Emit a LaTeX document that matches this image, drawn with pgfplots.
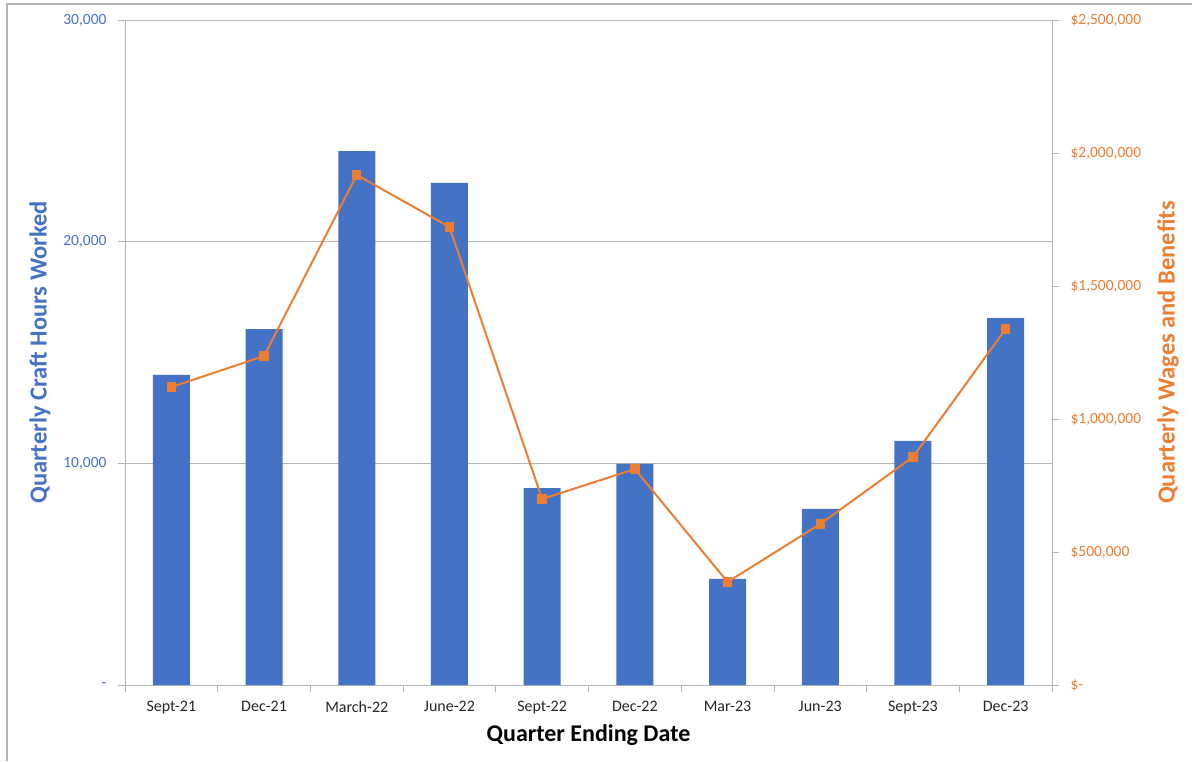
\documentclass[border=0pt]{standalone}
\usepackage{pgfplots}
\pgfplotsset{compat=1.18}
\usepackage{fontspec}
\setmainfont{Carlito}
\definecolor{barblue}{HTML}{4472C4}
\definecolor{lineorange}{HTML}{ED7D31}
\definecolor{gridgray}{HTML}{B4B4B4}
\definecolor{txt}{HTML}{262626}
\begin{document}
\begin{tikzpicture}
\path[use as bounding box] (0pt,0pt) rectangle (1192pt,761pt);
\draw[color=gridgray, line width=1.5pt] (7pt,0pt) -- (7pt,757pt) -- (1192pt,757pt);
\begin{axis}[
  at={(125pt,76pt)}, anchor=south west,
  scale only axis, width=927pt, height=665pt,
  xmin=-0.5, xmax=9.5, ymin=0, ymax=30000,
  scaled y ticks=false,
  axis x line*=bottom, axis y line*=left,
  axis line style={gridgray, line width=0.8pt},
  xtick={0,...,9},
  xticklabels={Sept-21,Dec-21,March-22,June-22,Sept-22,Dec-22,Mar-23,Jun-23,Sept-23,Dec-23},
  major x tick style={draw=none},
  minor xtick={-0.5,0.5,...,9.5},
  minor tick length=7pt,
  minor x tick style={gridgray, line width=0.8pt},
  xticklabel style={font=\fontsize{16}{19}\selectfont, color=txt, yshift=-6pt},
  ytick={0,10000,20000,30000},
  yticklabels={-,{10,000},{20,000},{30,000}},
  yticklabel style={font=\fontsize{15.5}{18}\selectfont, color=barblue, xshift=-8pt},
  major tick length=7pt,
  tick align=outside,
  major y tick style={gridgray, line width=0.8pt},
  ymajorgrids, grid style={gridgray, line width=0.8pt},
  xlabel={Quarter Ending Date},
  xlabel style={font=\fontsize{24}{28}\selectfont\bfseries, color=black, at={(axis description cs:0.5,-0.0752)}, anchor=center},
  ylabel={Quarterly Craft Hours Worked},
  ylabel style={font=\fontsize{24.5}{28}\selectfont\bfseries, color=barblue, at={(axis description cs:-0.0917,0.5)}, anchor=center, rotate=0},
  clip=false,
]
\addplot[ybar, bar width=37pt, fill=barblue, draw=none] coordinates {
 (0,13985) (1,16060) (2,24090) (3,22647) (4,8887) (5,9970) (6,4782) (7,7940) (8,11008) (9,16556)
};
\end{axis}
\begin{axis}[
  at={(125pt,76pt)}, anchor=south west,
  scale only axis, width=927pt, height=665pt,
  xmin=-0.5, xmax=9.5, ymin=0, ymax=2500000,
  scaled y ticks=false,
  axis x line=none, axis y line*=right,
  axis line style={gridgray, line width=0.8pt},
  ytick={0,500000,1000000,1500000,2000000,2500000},
  yticklabels={\$-,{\$500,000},{\$1,000,000},{\$1,500,000},{\$2,000,000},{\$2,500,000}},
  yticklabel style={font=\fontsize{15.5}{18}\selectfont, color=lineorange, xshift=8pt},
  major tick length=7pt,
  tick align=outside,
  major y tick style={gridgray, line width=0.8pt},
  ylabel={Quarterly Wages and Benefits},
  ylabel style={font=\fontsize{24.5}{28}\selectfont\bfseries, color=lineorange, at={(axis description cs:1.1251,0.5)}, anchor=center, rotate=0},
  clip=false,
]
\addplot[color=lineorange, line width=2pt, mark=square*, mark size=4.2pt, mark options={fill=lineorange, draw=lineorange, line width=0pt}] coordinates {
 (0,1120000) (1,1236800) (2,1917300) (3,1721800) (4,699200) (5,812000) (6,387200) (7,605300) (8,857100) (9,1338300)
};
\end{axis}
\end{tikzpicture}
\end{document}
